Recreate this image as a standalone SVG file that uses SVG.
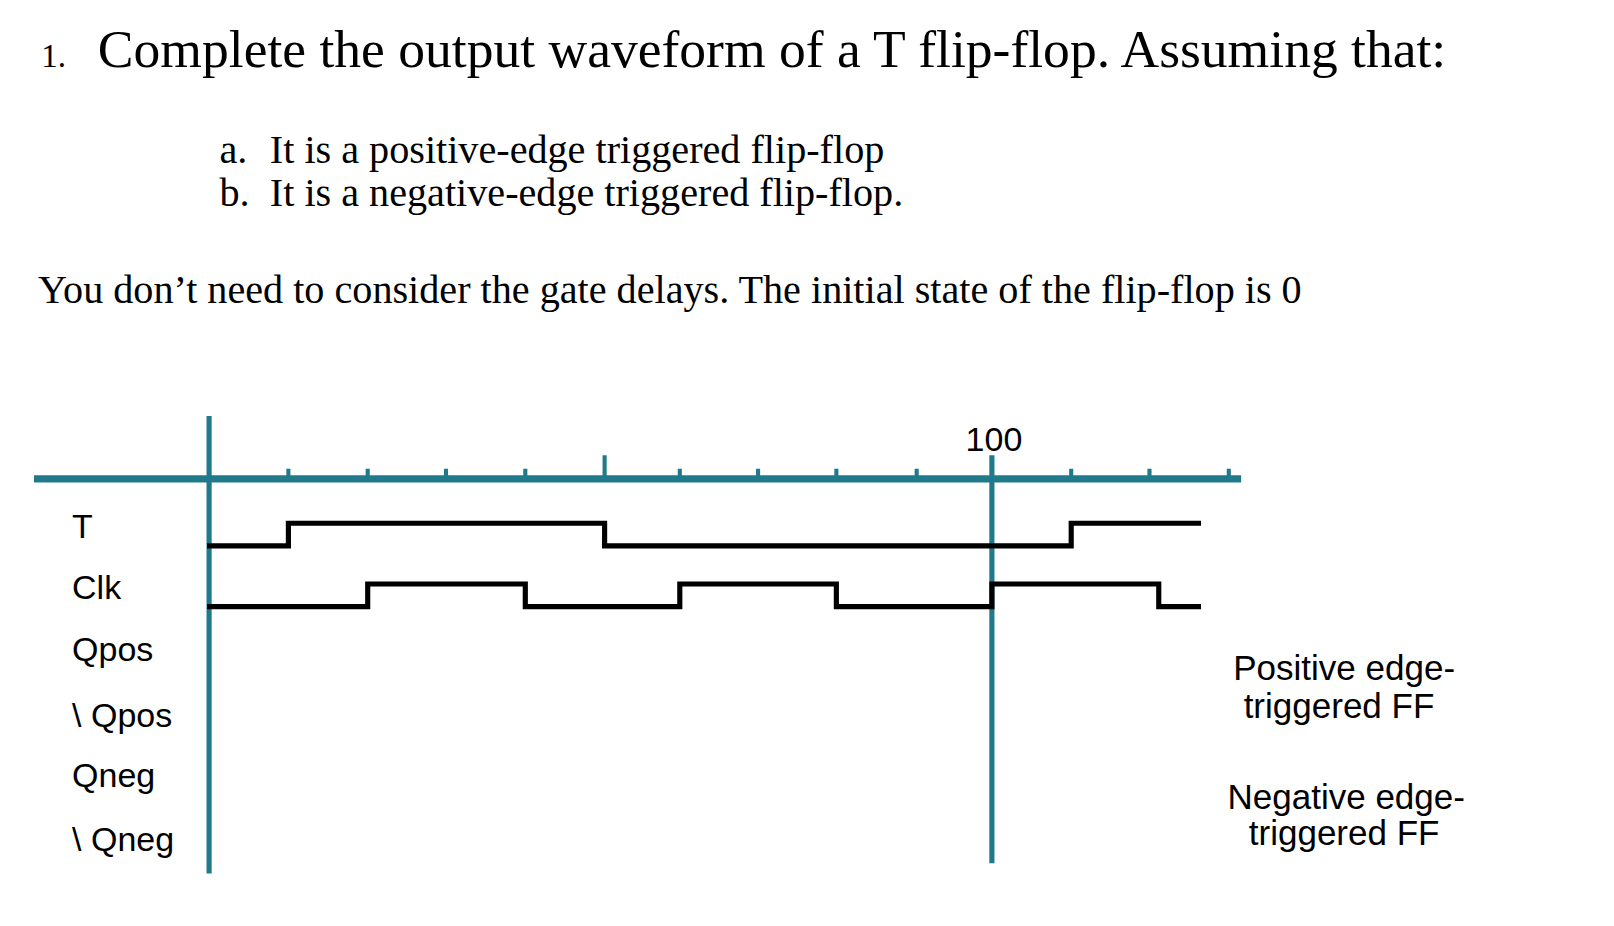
<svg xmlns="http://www.w3.org/2000/svg" width="1614" height="926" viewBox="0 0 1614 926">
<style>
.s{font-family:"Liberation Serif",serif;fill:#000}
.l{font-family:"Liberation Sans",sans-serif;fill:#000;font-size:33px}
.r{font-family:"Liberation Sans",sans-serif;fill:#000;font-size:34px}
.ax{stroke:#217a8c;fill:none}
.w{stroke:#000;stroke-width:5;fill:none}
</style>
<rect width="1614" height="926" fill="#fff"/>
<g transform="scale(1.03)">
<g id="header">
<text class="s" x="40" y="65" font-size="32">1.</text>
<text class="s" x="95" y="65" font-size="52">Complete the output waveform of a T flip-flop. Assuming that:</text>
<text class="s" x="213" y="158" font-size="39">a.</text>
<text class="s" x="262" y="158" font-size="39">It is a positive-edge triggered flip-flop</text>
<text class="s" x="213" y="200" font-size="39">b.</text>
<text class="s" x="262" y="200" font-size="39">It is a negative-edge triggered flip-flop.</text>
<text class="s" x="37" y="294" font-size="39">You don’t need to consider the gate delays. The initial state of the flip-flop is 0</text>
</g>
<g id="axes">
<line class="ax" x1="33" y1="465" x2="1205" y2="465" stroke-width="7"/>
<line class="ax" x1="203" y1="404" x2="203" y2="848" stroke-width="5"/>
<line class="ax" x1="963" y1="442" x2="963" y2="838" stroke-width="5"/>
<path class="ax" stroke-width="4" d="M280 455V465M357 455V465M433 455V465M510 455V465M587 442V465M660 455V465M736 455V465M812 455V465M890 455V465M1040 455V465M1116 455V465M1193 455V465"/>
<text class="l" x="965" y="438" text-anchor="middle" font-size="32">100</text>
</g>
<g id="labels">
<text class="l" x="70" y="522">T</text>
<text class="l" x="70" y="582">Clk</text>
<text class="l" x="70" y="642">Qpos</text>
<text class="l" x="70" y="706">\ Qpos</text>
<text class="l" x="70" y="764">Qneg</text>
<text class="l" x="70" y="826">\ Qneg</text>
<text class="r" x="1305" y="660" text-anchor="middle">Positive edge-</text>
<text class="r" x="1300" y="697" text-anchor="middle">triggered FF</text>
<text class="r" x="1307" y="785" text-anchor="middle">Negative edge-</text>
<text class="r" x="1305" y="820" text-anchor="middle">triggered FF</text>
</g>
<g id="waves">
<path class="w" d="M201 530H280V508H587V530H1040V508H1166"/>
<path class="w" d="M201 589H357V567H510V589H660V567H812V589H963V567H1125V589H1166"/>
</g>
</g>
</svg>
